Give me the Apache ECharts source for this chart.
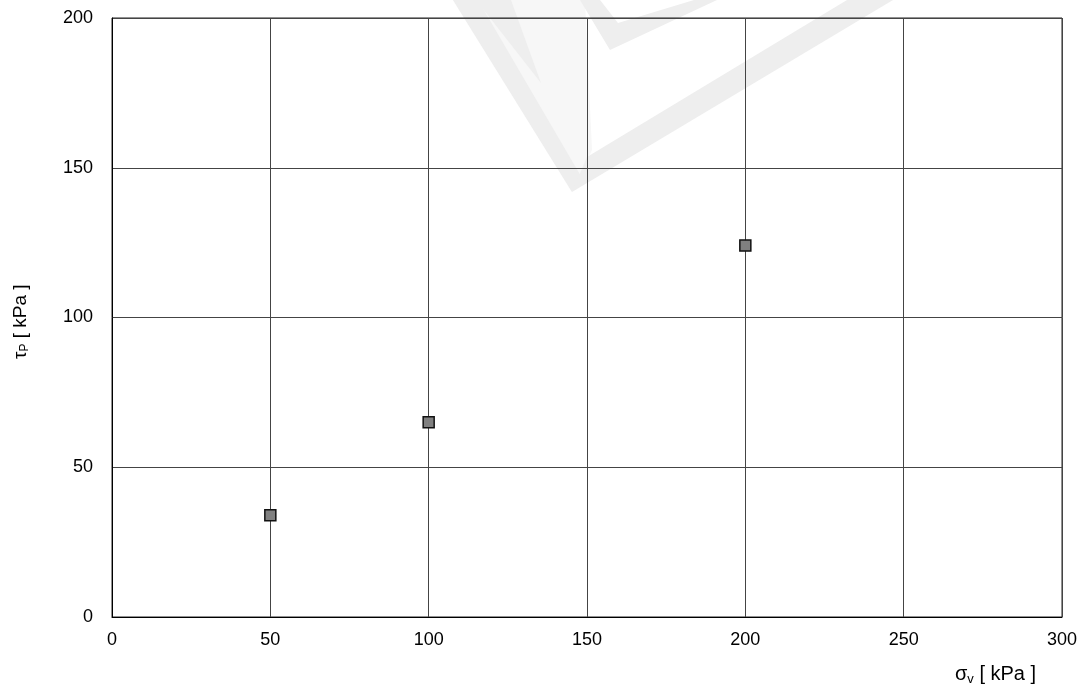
<!DOCTYPE html>
<html>
<head>
<meta charset="utf-8">
<script src="https://cdn.jsdelivr.net/npm/echarts@6/dist/echarts.min.js"></script>
<style>html,body{margin:0;padding:0;background:#fff}#c{width:1083px;height:693px}</style>
</head>
<body>
<div id="c"></div>
<script>
var sigmaV = [50, 100, 200];
var tauP = [34, 65, 124];
var xTicks = [0, 50, 100, 150, 200, 250, 300];
var yTicks = [0, 50, 100, 150, 200];

var chart = echarts.init(document.getElementById('c'), null, {renderer: 'canvas'});
var font = '"Liberation Sans", Arial, sans-serif';
var wmDark = '#eeeeee', wmLight = '#f7f7f7';
function poly(pts, fill) {
  return {type: 'polygon', z: -10, silent: true, shape: {points: pts}, style: {fill: fill}};
}
chart.setOption({
  animation: false,
  backgroundColor: '#ffffff',
  grid: {left: 112, top: 18, right: 21, bottom: 76, show: true, borderColor: '#222', borderWidth: 1, containLabel: false},
  xAxis: {
    type: 'value', min: xTicks[0], max: xTicks[xTicks.length - 1], interval: 50,
    axisLine: {show: true, lineStyle: {color: '#000', width: 1}},
    axisTick: {show: false},
    axisLabel: {color: '#000', fontSize: 18, fontFamily: font, margin: 14},
    splitLine: {show: true, lineStyle: {color: '#444', width: 1}}
  },
  yAxis: {
    type: 'value', min: yTicks[0], max: yTicks[yTicks.length - 1], interval: 50,
    axisLine: {show: true, lineStyle: {color: '#000', width: 1}},
    axisTick: {show: false},
    axisLabel: {color: '#000', fontSize: 18, fontFamily: font, margin: 19},
    splitLine: {show: true, lineStyle: {color: '#444', width: 1}}
  },
  graphic: [
    poly([[453,0],[585,0],[592,150],[572,192]], wmLight),
    poly([[453,0],[478,0],[582,178],[572,192]], wmDark),
    poly([[476,0],[511,0],[541,83]], wmDark),
    poly([[572,192],[893,0],[847,0],[587,157]], wmDark),
    poly([[580,0],[600,0],[618,23],[694,0],[717,0],[610,50]], wmDark),
    {type: 'text', left: 955, top: 664, style: {
      text: '{a|σ}{s|v}{a| [ kPa ]}',
      rich: {a: {fontSize: 20, fontFamily: font, fill: '#000'}, s: {fontSize: 13, fontFamily: font, fill: '#000', padding: [10, 0, 0, 0]}}
    }},
    {type: 'text', x: 10, y: 359, rotation: Math.PI / 2, style: {
      text: '{a|τ}{s|P}{a| [ kPa ]}',
      rich: {a: {fontSize: 19, fontFamily: font, fill: '#000'}, s: {fontSize: 12, fontFamily: font, fill: '#000', padding: [9, 0, 0, 0]}}
    }}
  ],
  series: [{
    type: 'scatter',
    data: sigmaV.map(function (v, i) { return [v, tauP[i]]; }),
    symbol: 'rect', symbolSize: 11,
    itemStyle: {color: '#808080', borderColor: '#111', borderWidth: 1.5, opacity: 1},
    z: 5
  }]
});
</script>
</body>
</html>
